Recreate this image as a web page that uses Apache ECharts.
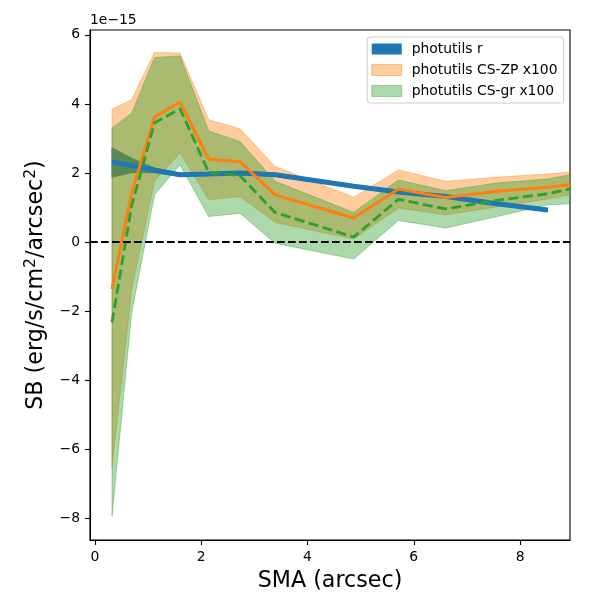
<!DOCTYPE html>
<html>
<head>
<meta charset="utf-8">
<script src="https://cdn.jsdelivr.net/npm/echarts@6/dist/echarts.min.js"></script>
<style>
html,body{margin:0;padding:0;background:#fff;}
#chart{width:600px;height:600px;}
</style>
</head>
<body>
<div id="chart"></div>
<script>
// SMA (arcsec) sample positions
const xs = [0.32, 0.69, 1.12, 1.60, 2.14, 2.73, 3.39, 4.87, 5.71, 6.60, 7.56, 8.52, 8.94];
// photutils r (units of 1e-15)
const rX = [0.32, 0.69, 1.12, 1.60, 2.14, 2.73, 3.39, 4.87, 5.71, 6.60, 7.56, 8.52];
const rLine = [2.31, 2.22, 2.08, 1.95, 1.97, 2.00, 1.95, 1.62, 1.45, 1.32, 1.11, 0.93];
const rLo   = [1.88, 2.01, 2.01, 1.91, 1.93, 1.96, 1.91, 1.58, 1.41, 1.28, 1.07, 0.89];
const rHi   = [2.73, 2.43, 2.15, 1.99, 2.01, 2.04, 1.99, 1.66, 1.49, 1.36, 1.15, 0.97];
// photutils CS-ZP x100
const zpLine = [-1.36, 1.42, 3.62, 4.05, 2.40, 2.33, 1.37, 0.70, 1.54, 1.29, 1.47, 1.59, 1.66];
const zpLo   = [-6.53, -1.37, 1.76, 2.58, 1.23, 1.32, 0.57, 0.09, 0.99, 0.79, 1.02, 1.25, 1.37];
const zpHi   = [3.85, 4.12, 5.49, 5.47, 3.54, 3.28, 2.19, 1.30, 2.09, 1.76, 1.88, 1.97, 2.03];
// photutils CS-gr x100
const grLine = [-2.32, 1.05, 3.45, 3.86, 2.02, 1.92, 0.86, 0.15, 1.24, 0.96, 1.21, 1.40, 1.54];
const grLo   = [-7.93, -2.05, 1.37, 2.24, 0.74, 0.84, -0.03, -0.49, 0.63, 0.41, 0.74, 1.08, 1.11];
const grHi   = [3.30, 3.73, 5.34, 5.39, 3.22, 2.91, 1.76, 0.86, 1.80, 1.49, 1.71, 1.83, 1.95];
// ticks
const xTicks = [0, 2, 4, 6, 8];
const yTicks = [-8, -6, -4, -2, 0, 2, 4, 6];
const seriesNames = ['photutils r', 'photutils CS-ZP x100', 'photutils CS-gr x100'];

const FONT = 'DejaVu Sans';

function bandSeries(name, x, lo, hi, fill, stroke, z) {
  return {
    type: 'custom',
    name: name,
    z: z,
    clip: true,
    silent: true,
    data: x.map((v, i) => [v, lo[i], hi[i]]),
    encode: { x: 0, y: [1, 2] },
    renderItem: function (params, api) {
      if (params.dataIndex !== 0) return null;
      const n = x.length;
      const pts = [];
      for (let i = 0; i < n; i++) pts.push(api.coord([api.value(0, i), api.value(2, i)]));
      for (let i = n - 1; i >= 0; i--) pts.push(api.coord([api.value(0, i), api.value(1, i)]));
      return {
        type: 'polygon',
        shape: { points: pts },
        style: { fill: fill, stroke: stroke, lineWidth: 1 }
      };
    }
  };
}

function lineSeries(name, x, y, color, width, type, z) {
  return {
    type: 'line',
    name: name,
    z: z,
    clip: true,
    silent: true,
    symbol: 'none',
    data: x.map((v, i) => [v, y[i]]),
    lineStyle: { color: color, width: width, type: type, cap: 'butt' },
    itemStyle: { color: color }
  };
}

const minus = v => (v < 0 ? '\u2212' + Math.abs(v) : String(v));

const chart = echarts.init(document.getElementById('chart'), null, { renderer: 'canvas' });
const greenLine = lineSeries('gr line', xs, grLine, '#2ca02c', 2.8, [10, 4.5], 6);
greenLine.markLine = {
  silent: true,
  symbol: ['none', 'none'],
  label: { show: false },
  z: 10,
  data: [{ yAxis: 0 }],
  lineStyle: { color: '#000', width: 2, type: [7.7, 3.3] },
  emphasis: { disabled: true }
};

chart.setOption({
  animation: false,
  backgroundColor: '#fff',
  textStyle: { fontFamily: FONT },
  grid: { left: 90, right: 30, top: 30, bottom: 60, show: true, borderColor: '#000', borderWidth: 1.1, backgroundColor: 'transparent' },
  graphic: [{
    type: 'text', left: 90, top: 13,
    style: { text: '1e\u221215', font: '13.9px "DejaVu Sans"', fill: '#000' }
  }],
  legend: {
    orient: 'vertical',
    right: 36.5, top: 37,
    padding: [4, 6, 4, 4],
    itemGap: 5,
    itemWidth: 30,
    itemHeight: 11,
    icon: 'rect',
    backgroundColor: 'rgba(255,255,255,0.8)',
    borderColor: '#cccccc',
    borderWidth: 1,
    borderRadius: 3,
    selectedMode: false,
    textStyle: { fontFamily: FONT, fontSize: 13.9, color: '#000', lineHeight: 16, padding: [0, 0, 0, 5] },
    data: [
      { name: seriesNames[0], itemStyle: { color: '#1f77b4', borderWidth: 0 } },
      { name: seriesNames[1], itemStyle: { color: 'rgba(255,127,14,0.4)', borderColor: 'rgba(255,127,14,0.4)', borderWidth: 1 } },
      { name: seriesNames[2], itemStyle: { color: 'rgba(44,160,44,0.4)', borderColor: 'rgba(44,160,44,0.4)', borderWidth: 1 } }
    ]
  },
  xAxis: {
    type: 'value',
    min: -0.094, max: 8.94,
    name: 'SMA (arcsec)',
    nameLocation: 'middle',
    nameGap: 30,
    nameTextStyle: { fontFamily: FONT, fontSize: 22.2, color: '#000' },
    axisLine: { show: true, onZero: false, lineStyle: { color: '#000', width: 1.1 } },
    axisTick: { show: true, inside: false, length: 5, lineStyle: { color: '#000', width: 1.1 }, customValues: xTicks },
    axisLabel: { show: true, margin: 10, fontFamily: FONT, fontSize: 13.9, color: '#000', customValues: xTicks, formatter: minus },
    splitLine: { show: false }
  },
  yAxis: {
    type: 'value',
    min: -8.62, max: 6.14,
    name: 'SB (erg/s/cm{sup|2}/arcsec{sup|2})',
    nameLocation: 'middle',
    nameGap: 41,
    nameRotate: 90,
    nameTextStyle: {
      fontFamily: FONT, fontSize: 22.2, color: '#000',
      rich: { sup: { fontFamily: FONT, fontSize: 15.5, color: '#000', padding: [0, 0, 10, 0] } }
    },
    axisLine: { show: true, onZero: false, lineStyle: { color: '#000', width: 1.1 } },
    axisTick: { show: true, inside: false, length: 5, lineStyle: { color: '#000', width: 1.1 }, customValues: yTicks },
    axisLabel: { show: true, margin: 10, fontFamily: FONT, fontSize: 13.9, color: '#000', customValues: yTicks, formatter: minus },
    splitLine: { show: false }
  },
  series: [
    bandSeries(seriesNames[0], rX, rLo, rHi, '#1f77b4', '#1f77b4', 1),
    bandSeries(seriesNames[1], xs, zpLo, zpHi, 'rgba(255,127,14,0.4)', 'rgba(255,127,14,0.4)', 2),
    bandSeries(seriesNames[2], xs, grLo, grHi, 'rgba(44,160,44,0.4)', 'rgba(44,160,44,0.4)', 3),
    lineSeries('r line', rX, rLine, '#1f77b4', 5, 'solid', 4),
    lineSeries('zp line', xs, zpLine, '#ff7f0e', 3, 'solid', 5),
    greenLine
  ]
});
</script>
</body>
</html>
